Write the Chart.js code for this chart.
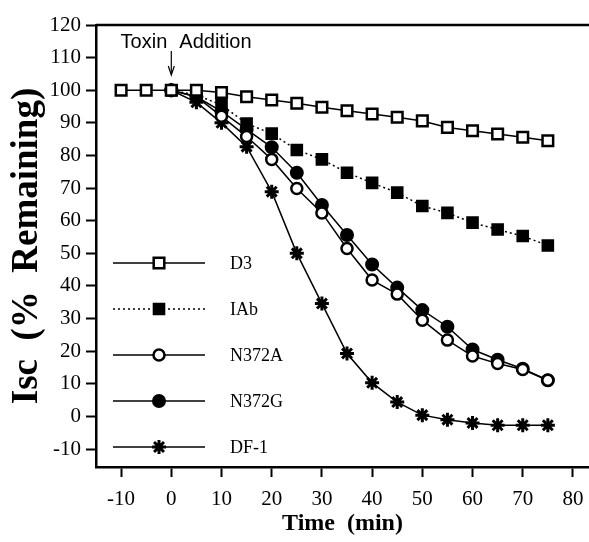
<!DOCTYPE html>
<html lang="en">
<head>
    <meta charset="UTF-8">
    <title>Isc vs Time</title>
    <script src="https://cdn.jsdelivr.net/npm/chart.js"></script>
    <style>
        * {
            margin: 0;
            padding: 0;
            box-sizing: border-box;
        }

        body {
            background-color: #ffffff;
            width: 589px;
            height: 542px;
            overflow: hidden;
        }
    </style>
</head>
<body>
    <canvas id="iscChart" width="589" height="542"></canvas>

    <script>
        // Time points (min) and % Isc remaining for each toxin
        const times = [-10, -5, 0, 5, 10, 15, 20, 25, 30, 35, 40, 45, 50, 55, 60, 65, 70, 75];
        const d3 = [100, 100, 100, 100, 99.3, 98, 97, 96, 94.8, 93.7, 92.7, 91.7, 90.6, 88.6, 87.6, 86.6, 85.6, 84.5];
        const iab = [null, null, 100, 98.5, 95.5, 89.8, 86.7, 81.7, 78.8, 74.7, 71.6, 68.6, 64.5, 62.4, 59.4, 57.3, 55.3, 52.4];
        const n372a = [null, null, 100, 98, 92, 85.8, 78.8, 69.9, 62.4, 51.5, 41.8, 37.5, 29.5, 23.4, 18.5, 16.2, 14.4, 11.1];
        const n372g = [null, null, 100, 98, 93.5, 88, 82.5, 74.7, 64.8, 55.6, 46.6, 39.5, 32.6, 27.5, 20.5, 17.4, 14.6, 11.1];
        const df1 = [null, null, 100, 96.3, 90, 82.7, 68.9, 50, 34.6, 19.3, 10.3, 4.4, 0.4, -1, -2, -2.7, -2.7, -2.7];

        const xTicks = [-10, 0, 10, 20, 30, 40, 50, 60, 70, 80];
        const yTicks = [-10, 0, 10, 20, 30, 40, 50, 60, 70, 80, 90, 100, 110, 120];

        const serif = "'Liberation Serif', 'Times New Roman', serif";
        const sans = "'Liberation Sans', Arial, sans-serif";

        function points(values) {
            return times.map((t, i) => ({ x: t, y: values[i] }));
        }

        function series(label, values, style, fill, extra) {
            return Object.assign({
                label: label,
                data: points(values),
                borderColor: '#000',
                borderWidth: 1.5,
                pointStyle: style,
                pointBackgroundColor: fill,
                pointBorderColor: '#000',
                pointBorderWidth: 2,
                pointRadius: 6,
                tension: 0,
                spanGaps: false,
            }, extra || {});
        }

        // Legend drawn inside the plot, like the original figure
        const insideLegend = {
            id: 'insideLegend',
            afterDraw(chart) {
                const ctx = chart.ctx;
                const area = chart.chartArea;
                const x0 = area.left + 17;
                const x1 = area.left + 109;
                const xm = area.left + 63;
                const rowTop = 263;
                const rowGap = 46;

                ctx.save();
                chart.data.datasets.forEach((ds, i) => {
                    const y = rowTop + i * rowGap;
                    ctx.strokeStyle = '#000';
                    ctx.lineWidth = 1.5;
                    ctx.setLineDash(ds.borderDash || []);
                    ctx.beginPath();
                    ctx.moveTo(x0, y);
                    ctx.lineTo(x1, y);
                    ctx.stroke();
                    ctx.setLineDash([]);

                    ctx.fillStyle = ds.pointBackgroundColor;
                    ctx.strokeStyle = '#000';
                    ctx.lineWidth = ds.pointBorderWidth;
                    Chart.helpers.drawPoint(ctx, {
                        pointStyle: ds.pointStyle,
                        radius: ds.pointRadius,
                        rotation: 0,
                        borderWidth: ds.pointBorderWidth,
                    }, xm, y);

                    ctx.fillStyle = '#000';
                    ctx.font = '18px ' + serif;
                    ctx.textAlign = 'left';
                    ctx.textBaseline = 'middle';
                    ctx.fillText(ds.label, area.left + 134, y + 1);
                });
                ctx.restore();
            }
        };

        // Top frame line and the "Toxin Addition" marker at t = 0
        const annotations = {
            id: 'annotations',
            afterDraw(chart) {
                const ctx = chart.ctx;
                const area = chart.chartArea;
                const ax = chart.scales.x.getPixelForValue(0);
                ctx.save();
                ctx.strokeStyle = '#000';
                ctx.lineWidth = 2.5;
                ctx.beginPath();
                ctx.moveTo(area.left, area.top);
                ctx.lineTo(area.right, area.top);
                ctx.stroke();

                ctx.font = '20px ' + sans;
                ctx.fillStyle = '#000';
                ctx.textBaseline = 'alphabetic';
                ctx.textAlign = 'right';
                ctx.fillText('Toxin', ax - 4, 48);
                ctx.textAlign = 'left';
                ctx.fillText('Addition', ax + 8, 48);

                ctx.lineWidth = 1.2;
                ctx.beginPath();
                ctx.moveTo(ax, 51);
                ctx.lineTo(ax, 74);
                ctx.stroke();
                ctx.beginPath();
                ctx.moveTo(ax - 3, 66);
                ctx.lineTo(ax, 75);
                ctx.lineTo(ax + 3, 66);
                ctx.stroke();
                ctx.restore();
            }
        };

        const ctx = document.getElementById('iscChart').getContext('2d');
        const iscChart = new Chart(ctx, {
            type: 'line',
            data: {
                datasets: [
                    series('D3', d3, 'rect', '#fff', { pointRadius: 7.5, pointBorderWidth: 2.5 }),
                    series('IAb', iab, 'rect', '#000', { pointRadius: 7.5, borderDash: [2, 3] }),
                    series('N372A', n372a, 'circle', '#fff', { pointRadius: 5.5, pointBorderWidth: 2.5 }),
                    series('N372G', n372g, 'circle', '#000', { pointRadius: 6 }),
                    series('DF-1', df1, 'star', '#000', { pointRadius: 7, pointBorderWidth: 3 }),
                ],
            },
            options: {
                responsive: false,
                animation: false,
                devicePixelRatio: 1,
                layout: { autoPadding: false, padding: { top: 25, right: 0, left: 0, bottom: 0 } },
                plugins: {
                    legend: { display: false },
                    tooltip: { enabled: false },
                },
                scales: {
                    x: {
                        type: 'linear',
                        min: -15,
                        max: 83.2,
                        afterFit: (scale) => {
                            scale.height = 75;
                            scale.paddingLeft = 0;
                            scale.paddingRight = 0;
                        },
                        afterBuildTicks: (scale) => { scale.ticks = xTicks.map(v => ({ value: v })); },
                        ticks: { color: '#000', font: { family: serif, size: 21 }, padding: 10, maxRotation: 0 },
                        grid: { drawOnChartArea: false, drawTicks: true, tickLength: 10, tickWidth: 2, tickColor: '#000' },
                        border: { display: true, color: '#000', width: 2.5 },
                        title: { display: true, text: 'Time  (min)', color: '#000', font: { family: serif, size: 24, weight: 'bold' }, padding: { top: 2 } },
                    },
                    y: {
                        type: 'linear',
                        min: -15.5,
                        max: 120,
                        afterFit: (scale) => {
                            scale.width = 96;
                            scale.paddingTop = 0;
                            scale.paddingBottom = 0;
                        },
                        afterBuildTicks: (scale) => { scale.ticks = yTicks.map(v => ({ value: v })); },
                        ticks: { color: '#000', font: { family: serif, size: 21 }, padding: 5 },
                        grid: { drawOnChartArea: false, drawTicks: true, tickLength: 10, tickWidth: 2, tickColor: '#000' },
                        border: { display: true, color: '#000', width: 2.5 },
                        title: { display: true, text: 'Isc  (%  Remaining)', color: '#000', font: { family: serif, size: 37, weight: 'bold' }, padding: { top: 5, bottom: 0 } },
                    },
                },
            },
            plugins: [insideLegend, annotations],
        });
    </script>
</body>
</html>
